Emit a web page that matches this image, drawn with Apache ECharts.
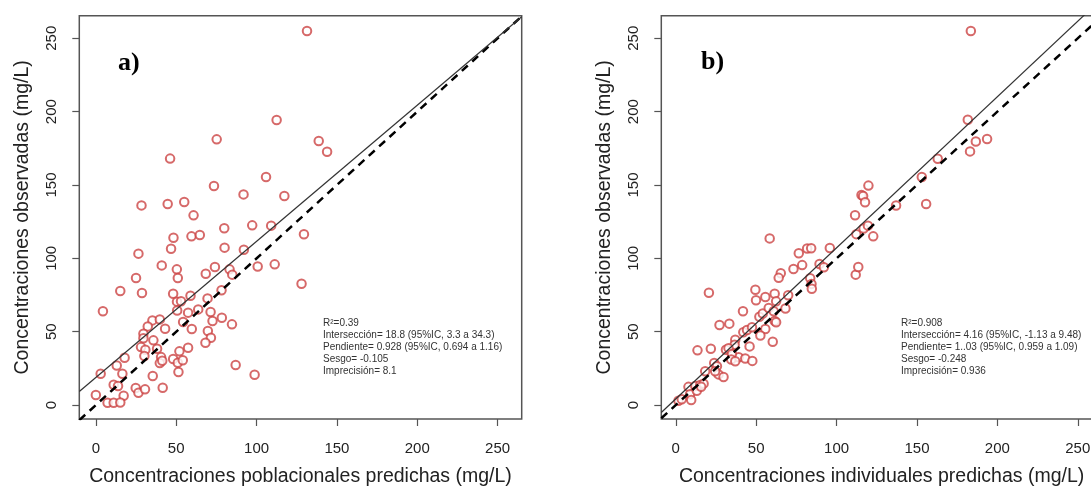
<!DOCTYPE html>
<html><head><meta charset="utf-8">
<script src="https://cdn.jsdelivr.net/npm/echarts@6/dist/echarts.min.js"></script>
<style>html,body{margin:0;padding:0;background:#fff}#c{width:1091px;height:486px}</style>
</head><body><div id="c"></div>
<script>
// Panel a) population predictions vs observed
const predA = [131.4,112.5,75.2,138.7,143.9,46.2,105.9,73.5,91.9,117.3,28.4,44.7,55,60.8,79.9,97.3,109.1,129.5,128,
48.3,59.5,64.7,46.8,26.5,80.1,92.1,41,50.4,51,74.1,68.4,83.2,84.9,100.7,111.3,25,15.2,28.7,48.1,58.9,69.5,78.2,50.5,53,50.6,4.4,57.4,63.7,71.4,78.4,84.7,35.2,39.8,32.3,43.1,54.3,72.6,29.6,59.7,69.7,71.6,68.2,29.6,35.8,38.1,28.1,30.8,30.2,57.4,52,40.6,39.8,41.3,48.1,51,54.1,51.4,17.9,13,16.5,3,35.4,87,98.8,11.1,13.8,24.8,0,26.5,30.6,41.6,17.3,7.3,11.1,15.2];
const obsA = [255,194.3,181.1,180,172.7,168,155.5,149.3,143.6,142.5,136.1,137,138.4,129.3,120.5,122.5,122.3,116.4,82.7,
114.1,115,115.9,106.6,103.2,107.3,105.9,95.2,92.5,86.6,94.1,89.5,92.5,88.9,94.5,95.9,86.6,77.7,76.4,75.9,74.5,72.7,78.2,70.5,70.8,64.5,63.9,63,65.2,63.4,59.5,55,57.7,58.4,53.6,52,56.6,57.3,48.6,51.8,50.5,45.9,42.5,45.6,44.1,38.4,39.5,37.7,33.4,39.1,36.6,32.7,28.6,30.2,31.4,28.9,30.5,22.5,32.3,27,21.4,21.4,19.8,27.3,20.7,13.9,13,11.6,6.8,8.4,10.7,11.8,6.4,1.6,1.6,1.8];
// Panel b) individual predictions vs observed
const predB = [183.5,181.6,183,186.6,193.6,162.9,153,155.7,137,119.8,115.5,116.5,117.7,111.5,112.3,116.8,119.5,122.8,
58.4,76.5,81.7,84.2,95.8,89.4,92.1,73.2,78.6,65.3,64,83.6,84.4,84.6,111.9,113.5,49.5,49.9,55.7,61.5,62.4,68.2,69.9,20.6,41.8,27.2,33.3,52,54.1,57.8,60.9,61.5,62.4,42,44.3,47.4,55.7,52.6,60.3,37,36.6,31.2,32.8,39.1,43.2,45.9,47.6,13.5,21.8,34.9,34.5,37,23.9,25.6,26.6,18.3,24.5,29.7,7.9,12.1,15.2,17.3,8.9,9.6,13.1,15.8,1.7,3.7];
const obsB = [255,194.5,172.9,179.7,181.3,167.9,155.5,137.1,136,149.6,143.2,142.5,138.2,129.4,116.5,120.3,122.3,115,
113.6,103.5,106.7,106.9,107.1,96.1,93.9,92.7,95.4,89.8,86.7,86.5,82.6,79.3,88.9,94.1,78.6,71.4,73.7,75.9,70.7,65.8,74.8,76.6,64,54.6,55.5,60.2,62.4,66.2,64,57.3,56.4,49.6,51.2,53,51.9,47.4,43.1,44.5,41.1,37.7,38.8,32.6,31.7,40,30.1,37.3,38.4,34.8,31,29.9,28.7,26.5,20.9,23.1,23.1,19.1,12.4,13,13.7,14.6,7.4,3.4,9.7,12.4,2.9,4];
// Regression lines (intercept, slope) and tick labels
const fitIntercept = [18.8, 4.16];
const fitSlope = [0.928, 1.03];
const tickValues = [0, 50, 100, 150, 200, 250];
const xTitles = ['Concentraciones poblacionales predichas (mg/L)', 'Concentraciones individuales predichas (mg/L)'];
const yTitle = 'Concentraciones observadas (mg/L)';
const panelLabels = ['a)', 'b)'];
const statsA = ['R²=0.39','Intersección= 18.8 (95%IC, 3.3 a 34.3)','Pendiente= 0.928 (95%IC, 0.694 a 1.16)','Sesgo= -0.105','Imprecisión= 8.1'];
const statsB = ['R²=0.908','Intersección= 4.16 (95%IC, -1.13 a 9.48)','Pendiente= 1..03 (95%IC, 0.959 a 1.09)','Sesgo= -0.248','Imprecisión= 0.936'];

const xMin = [-10.3, -9], xMax = [265, 265], yMin = -9.5, yMax = 265.4;
const FONT = '"Liberation Sans", Arial, sans-serif';
const chart = echarts.init(document.getElementById('c'), null, {renderer: 'canvas'});
const grids = [
  {left: 79.3, top: 15.7, width: 442.4, height: 403.3},
  {left: 661.3, top: 15.7, width: 440.6, height: 403.3}
];
const xAxes = [], yAxes = [], series = [];
[0,1].forEach(i => {
  Object.assign(grids[i], {show: true, borderColor: '#555', borderWidth: 1.5, backgroundColor: 'transparent',
    containLabel: false, outerBoundsMode: 'none'});
  xAxes.push({gridIndex: i, type: 'value', min: xMin[i], max: xMax[i],
    name: xTitles[i], nameLocation: 'middle', nameGap: 48,
    nameTextStyle: {fontFamily: FONT, fontSize: 19.5, color: '#222'},
    axisLine: {show: false, onZero: false}, splitLine: {show: false},
    axisTick: {show: true, length: 7, customValues: tickValues, lineStyle: {color: '#555', width: 1.2}},
    axisLabel: {customValues: tickValues, margin: 22, fontFamily: FONT, fontSize: 15, color: '#222'}});
  yAxes.push({gridIndex: i, type: 'value', min: yMin, max: yMax,
    name: yTitle, nameLocation: 'middle', nameGap: 47,
    nameTextStyle: {fontFamily: FONT, fontSize: 19.5, color: '#222'},
    axisLine: {show: false, onZero: false}, splitLine: {show: false},
    axisTick: {show: true, length: 7, customValues: tickValues, lineStyle: {color: '#555', width: 1.2}},
    axisLabel: {customValues: tickValues, rotate: 90, margin: 20, fontFamily: FONT, fontSize: 15, color: '#222'}});
  const px = i === 0 ? predA : predB, ob = i === 0 ? obsA : obsB;
  series.push({type: 'scatter', xAxisIndex: i, yAxisIndex: i, symbol: 'emptyCircle', symbolSize: 8.5,
    itemStyle: {color: '#cc4444', borderWidth: 1.2}, data: px.map((v, k) => [v, ob[k]]), z: 3, silent: true});
  // identity line (dashed)
  series.push({type: 'line', xAxisIndex: i, yAxisIndex: i, symbol: 'none', clip: true, silent: true,
    lineStyle: {color: '#000', width: 2.5, type: [8, 6]}, data: [[xMin[i], xMin[i]], [xMax[i], xMax[i]]], z: 4});
  // regression line (solid)
  series.push({type: 'line', xAxisIndex: i, yAxisIndex: i, symbol: 'none', clip: true, silent: true,
    lineStyle: {color: '#333', width: 1.2},
    data: [[xMin[i], fitIntercept[i] + fitSlope[i] * xMin[i]], [xMax[i], fitIntercept[i] + fitSlope[i] * xMax[i]]], z: 4});
});
const graphic = [];
const labelPos = [[118, 63], [701, 62]];
panelLabels.forEach((t, i) => graphic.push({type: 'text', x: labelPos[i][0], y: labelPos[i][1],
  style: {text: t, font: 'bold 26px "Liberation Serif", "DejaVu Serif", serif', fill: '#000', verticalAlign: 'middle'}}));
const statPos = [[323, 323], [901, 323]];
[statsA, statsB].forEach((arr, i) => arr.forEach((t, k) => graphic.push({type: 'text',
  x: statPos[i][0], y: statPos[i][1] + 12 * k,
  style: {text: t, font: '10px ' + FONT, fill: '#333', verticalAlign: 'middle'}})));
chart.setOption({backgroundColor: '#fff', animation: false, grid: grids, xAxis: xAxes, yAxis: yAxes, series, graphic});
</script></body></html>
